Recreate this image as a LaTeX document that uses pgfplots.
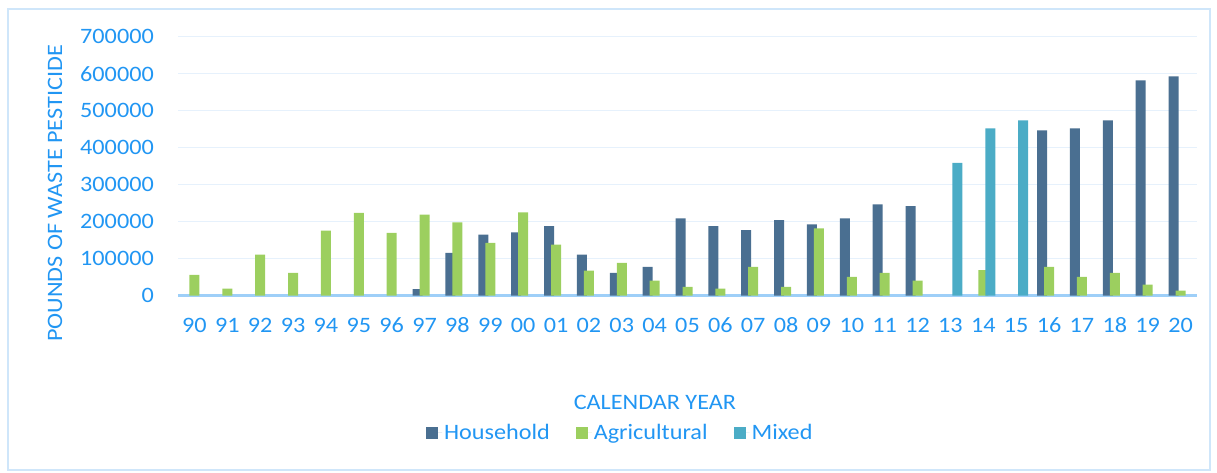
\documentclass[border=0pt]{standalone}
\usepackage{fontspec}
\setmainfont{Carlito}[FakeStretch=1.1]
\usepackage{pgfplots}
\pgfplotsset{compat=1.18}
\definecolor{household}{HTML}{4A6F91}
\definecolor{agri}{HTML}{9CCF5F}
\definecolor{mixed}{HTML}{4BACC6}
\definecolor{txtblue}{HTML}{2196F3}
\definecolor{gridblue}{HTML}{E6F1FC}
\definecolor{axisblue}{HTML}{9ECFF8}
\definecolor{borderblue}{HTML}{CFE6FA}
\begin{document}
\begin{tikzpicture}
\path[use as bounding box] (0pt,0pt) rectangle (1217pt,473pt);
\draw[borderblue, line width=1.5pt] (8pt,3pt) rectangle (1210pt,464pt);
\begin{axis}[
  at={(178pt,177.3pt)}, anchor=south west,
  scale only axis, width=1019pt, height=259pt,
  xmin=-0.5, xmax=30.5, ymin=0, ymax=700000,
  ybar,
  legend image code/.code={\fill[#1,draw=none] (0pt,-6pt) rectangle (12pt,6pt); \path (0pt,0pt) -- (16pt,0pt);},
  bar width=10pt,
  xtick={0,...,30},
  xticklabels={90,91,92,93,94,95,96,97,98,99,00,01,02,03,04,05,06,07,08,09,10,11,12,13,14,15,16,17,18,19,20},
  ytick={0,100000,...,700000},
  scaled y ticks=false,
  /pgf/number format/assume math mode=true,
  /pgf/number format/fixed,
  /pgf/number format/precision=0,
  /pgf/number format/1000 sep={},
  major tick length=0pt,
  tick style={draw=none},
  axis x line*=bottom, axis y line*=left,
  x axis line style={draw=axisblue, line width=3.5pt, -},
  y axis line style={draw=none},
  ymajorgrids, major grid style={draw=gridblue, line width=1.5pt},
  tick label style={font=\fontsize{22}{26}\selectfont, text=txtblue},
  yticklabel style={anchor=east, inner sep=0pt, xshift=-24pt},
  xticklabel style={anchor=north, inner sep=0pt, yshift=-22pt},
  label style={font=\fontsize{22}{26}\selectfont, text=txtblue},
  xlabel={CALENDAR YEAR},
  xlabel style={at={(axis description cs:0.468,-0.414)}, anchor=center},
  ylabel={POUNDS OF WASTE PESTICIDE},
  ylabel style={at={(axis description cs:-0.1207,0.3946)}, anchor=center},
  legend style={draw=none, fill=none, at={(axis description cs:0.434,-0.530)}, anchor=center,
    legend columns=3, font=\fontsize{22}{26}\selectfont, text=txtblue,
    /tikz/every even column/.append style={column sep=24pt}},
  legend cell align=left,
]
\addplot[fill=household, draw=none, bar shift=-7pt] coordinates {
 (7,18000) (8,116000) (9,165000) (10,171000) (11,188000) (12,111000) (13,62000) (14,78000)
 (15,209000) (16,188000) (17,177000) (18,204000) (19,193000) (20,209000) (21,247000) (22,242000)
 (26,447000) (27,452000) (28,474000) (29,582000) (30,593000)};
\addlegendentry{Household}
\addplot[fill=agri, draw=none, bar shift=0pt] coordinates {
 (0,56000) (1,19000) (2,111000) (3,62000) (4,176000) (5,224000) (6,170000) (7,219000)
 (8,198000) (9,143000) (10,225000) (11,138000) (12,68000) (13,89000) (14,41000) (15,24000)
 (16,19000) (17,78000) (18,24000) (19,182000) (20,51000) (21,62000) (22,41000) (24,69000)
 (26,78000) (27,51000) (28,62000) (29,30000) (30,14000)};
\addlegendentry{Agricultural}
\addplot[fill=mixed, draw=none, bar shift=7pt] coordinates {
 (23,359000) (24,452000) (25,474000)};
\addlegendentry{Mixed}
\end{axis}
\end{tikzpicture}
\end{document}
